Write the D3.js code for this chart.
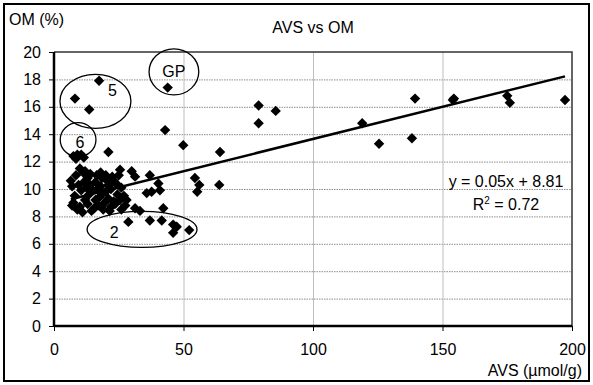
<!DOCTYPE html>
<html lang="en">
<head>
<meta charset="UTF-8">
<title>AVS vs OM</title>
<script src="https://cdn.jsdelivr.net/npm/d3@7"></script>
<style>
  body { margin: 0; background: #fff; }
  text { font-family: Arial, "Liberation Sans", sans-serif; font-size: 16px; fill: #000; }
  .grid-h { stroke: #8c8c8c; stroke-dasharray: 1.5,1; }
  .grid-v { stroke: #bdbdbd; }
</style>
</head>
<body>
<script>
// AVS (umol/g) and OM (%)
const avs = [
  8.1, 17.4, 13.6, 43.9,
  42.9, 49.9, 64.1, 79, 85.6, 79,
  54.4, 56.1, 55.3, 63.8,
  119, 125.5, 139.4, 138.2, 154.4, 154, 175, 176, 197.3,
  30, 31.3, 37, 40.3, 35.8, 37.7, 40.9, 28, 31.3, 33.2, 42.2,
  28.7, 37, 41.6, 46, 47.4, 46, 52.2, 25.5, 21,
  7.5, 9, 10.5, 11.5, 8.5, 10, 11.3,
  6.5, 7, 8, 7, 7.5, 9, 10, 11, 12, 12.5, 13, 14, 13.5, 14.5, 15, 16, 16.5, 17,
  17.5, 18, 18.5, 19, 19.5, 20, 20.5, 21, 21.5, 22, 22.5, 23, 23.5, 24, 24.5, 25,
  25.5, 26, 27, 27.5, 11.5, 10.5, 9.5, 8.5, 15.5, 18, 20, 16, 13, 22, 26, 24,
  19, 17, 14, 12, 21, 23
];
const om = [
  16.6, 17.9, 15.8, 17.4,
  14.3, 13.2, 12.7, 16.1, 15.7, 14.8,
  10.8, 10.3, 9.8, 10.3,
  14.8, 13.3, 16.6, 13.7, 16.6, 16.5, 16.8, 16.3, 16.5,
  11.3, 10.9, 11.0, 10.4, 9.7, 9.8, 9.9, 9.2, 8.6, 8.4, 8.6,
  7.6, 7.7, 7.7, 7.4, 7.25, 6.8, 7.0, 11.4, 12.7,
  12.4, 12.5, 12.5, 12.3, 12.2, 11.5, 11.2,
  10.6, 10.2, 9.5, 8.8, 9.0, 8.5, 8.7, 8.3, 9.2, 10.1, 10.8, 11.1, 9.6, 8.4, 9.9, 10.5, 11.0, 8.8,
  9.4, 10.2, 10.8, 8.5, 9.0, 9.8, 10.6, 9.3, 8.4, 10.0, 10.9, 9.1, 8.9, 10.4, 9.6, 11.0,
  9.2, 10.1, 9.5, 8.8, 10.5, 9.9, 10.3, 11.0, 8.6, 11.2, 11.0, 9.2, 8.9, 8.7, 8.5, 9.0,
  9.7, 10.0, 10.3, 11.3, 10.3, 10.6
];

const xTicks = [0, 50, 100, 150, 200];
const yTicks = [0, 2, 4, 6, 8, 10, 12, 14, 16, 18, 20];

// trend line as drawn (label rounds it)
const trendSlope = 0.047, trendIntercept = 8.95;
const eqText = "y = 0.05x + 8.81";
const r2Text = "0.72";

// circled groups, in data units: label, cx, cy, rx, ry, text x, text y
const groupNames = ["5", "GP", "6", "2"];
const groupCx = [16, 46.3, 9.3, 34];
const groupCy = [16.4, 18.55, 13.6, 7.05];
const groupRx = [13.7, 9.6, 6.9, 21.2];
const groupRy = [1.97, 1.68, 1.24, 1.31];
const groupTx = [22.6, 46.3, 10, 23.2];
const groupTy = [17.1, 18.5, 13.3, 6.7];

const W = 593, H = 385;
const m = { left: 54, right: 21, top: 52, bottom: 59 };

const svg = d3.select("body").append("svg")
  .attr("width", W).attr("height", H);

svg.append("rect")
  .attr("x", 4).attr("y", 4).attr("width", 585).attr("height", 377)
  .attr("fill", "none").attr("stroke", "#000").attr("stroke-width", 2);

const x = d3.scaleLinear().domain([0, 200]).range([m.left, W - m.right]);
const y = d3.scaleLinear().domain([0, 20]).range([H - m.bottom, m.top]);

// grid
svg.append("g").selectAll("line").data(yTicks.slice(1, -1)).enter().append("line")
  .attr("class", "grid-h")
  .attr("x1", x(0)).attr("x2", x(200))
  .attr("y1", d => y(d) + 0.5).attr("y2", d => y(d) + 0.5);
svg.append("g").selectAll("line").data(xTicks.slice(1, -1)).enter().append("line")
  .attr("class", "grid-v")
  .attr("y1", y(0)).attr("y2", y(20))
  .attr("x1", d => x(d) + 0.5).attr("x2", d => x(d) + 0.5);

// plot frame top/right
svg.append("path")
  .attr("d", `M${x(0)},${y(20)}H${x(200)}V${y(0)}`)
  .attr("fill", "none").attr("stroke", "#333").attr("stroke-width", 1.5);

// axes
const xAxis = svg.append("g")
  .attr("transform", `translate(0,${y(0)})`)
  .call(d3.axisBottom(x).tickValues(xTicks).tickSize(5).tickPadding(13));
const yAxis = svg.append("g")
  .attr("transform", `translate(${x(0)},0)`)
  .call(d3.axisLeft(y).tickValues(yTicks).tickSize(5).tickPadding(8));
[xAxis, yAxis].forEach(g => {
  g.select(".domain").attr("stroke", "#000").attr("stroke-width", 2.5);
  g.selectAll(".tick line").attr("stroke", "#000").attr("stroke-width", 1);
  g.selectAll(".tick text").style("font-size", "16px").attr("fill", "#000");
  g.attr("font-family", null).attr("font-size", null);
});
xAxis.select(".domain").attr("d", `M${x(0)},0H${x(200)}`);
yAxis.select(".domain").attr("d", `M0,${y(0)}V${y(20)}`);

// trend line
const xs = d3.extent(avs);
svg.append("line")
  .attr("x1", x(xs[0])).attr("y1", y(trendSlope * xs[0] + trendIntercept))
  .attr("x2", x(xs[1])).attr("y2", y(trendSlope * xs[1] + trendIntercept))
  .attr("stroke", "#000").attr("stroke-width", 2.5);

// points
const pts = avs.map((v, i) => ({ x: v, y: om[i] }));
const r = 5.2;
svg.append("g").selectAll("path").data(pts).enter().append("path")
  .attr("d", `M0,${-r}L${r},0L0,${r}L${-r},0Z`)
  .attr("transform", d => `translate(${x(d.x)},${y(d.y)})`)
  .attr("fill", "#000");

// group circles
const ann = svg.append("g");
groupNames.forEach((n, i) => {
  ann.append("ellipse")
    .attr("cx", x(groupCx[i])).attr("cy", y(groupCy[i]))
    .attr("rx", x(groupRx[i]) - x(0)).attr("ry", y(0) - y(groupRy[i]))
    .attr("fill", "none").attr("stroke", "#000").attr("stroke-width", 1.3);
  ann.append("text")
    .attr("x", x(groupTx[i])).attr("y", y(groupTy[i]))
    .attr("text-anchor", "middle").attr("dominant-baseline", "middle")
    .text(n);
});

// equation
const eq = svg.append("text").attr("text-anchor", "middle");
eq.append("tspan").attr("x", 506).attr("y", 187).text(eqText);
const r2 = svg.append("text").attr("x", 506).attr("y", 210).attr("text-anchor", "middle");
r2.append("tspan").text("R");
r2.append("tspan").attr("dy", -6).style("font-size", "10px").text("2");
r2.append("tspan").attr("dy", 6).text(" = " + r2Text);

// titles
svg.append("text").attr("x", 313).attr("y", 33).attr("text-anchor", "middle")
  .text("AVS vs OM");
svg.append("text").attr("x", 9).attr("y", 25).text("OM (%)");
svg.append("text").attr("x", 582).attr("y", 376).attr("text-anchor", "end")
  .text("AVS (\u00b5mol/g)");
</script>
</body>
</html>
